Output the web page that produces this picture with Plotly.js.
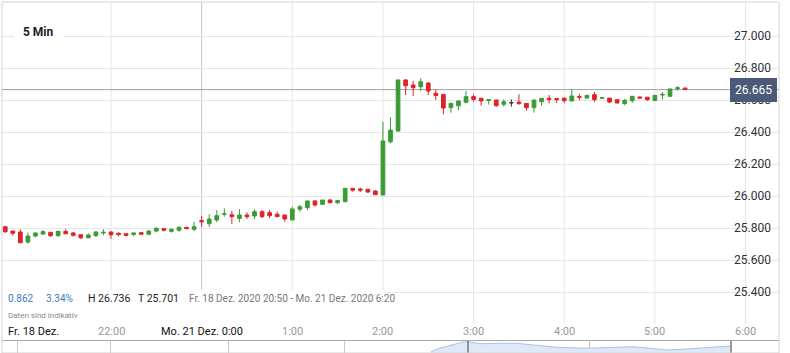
<!DOCTYPE html>
<html><head><meta charset="utf-8">
<script src="https://cdn.plot.ly/plotly-3.0.1.min.js"></script>
<style>html,body{margin:0;padding:0;background:#fff}#chart{width:790px;height:353px}</style>
</head><body><div id="chart"></div>
<script>
// 5-minute candles, Fr. 18 Dez. 2020 20:50 -> Mo. 21 Dez. 2020
const openV = [25.808,25.781,25.775,25.712,25.750,25.762,25.773,25.752,25.779,25.769,
 25.758,25.739,25.752,25.769,25.775,25.767,25.764,25.760,25.771,25.761,
 25.781,25.796,25.779,25.786,25.804,25.792,25.846,25.827,25.850,25.886,
 25.883,25.860,25.881,25.875,25.902,25.896,25.886,25.881,25.850,25.917,
 25.927,25.969,25.948,25.975,25.958,25.964,26.048,26.044,26.042,26.031,
 26.006,26.339,26.406,26.725,26.694,26.683,26.706,26.642,26.635,26.552,
 26.564,26.586,26.621,26.611,26.597,26.600,26.573,26.583,26.587,26.579,
 26.552,26.589,26.611,26.609,26.612,26.594,26.621,26.612,26.633,26.611,
 26.612,26.602,26.577,26.596,26.619,26.617,26.596,26.631,26.623,26.672,26.675];
const highV = [25.812,25.783,25.792,25.771,25.773,25.788,25.775,25.783,25.792,25.775,
 25.760,25.767,25.781,25.792,25.779,25.773,25.766,25.771,25.772,25.788,
 25.804,25.798,25.796,25.810,25.806,25.839,25.875,25.886,25.912,25.923,
 25.908,25.919,25.898,25.917,25.912,25.912,25.902,25.883,25.933,25.944,
 25.969,25.975,25.975,25.981,25.975,26.048,26.050,26.052,26.044,26.037,
 26.464,26.492,26.729,26.731,26.720,26.736,26.712,26.666,26.637,26.581,
 26.596,26.656,26.636,26.612,26.606,26.602,26.604,26.604,26.636,26.580,
 26.600,26.611,26.631,26.609,26.612,26.669,26.639,26.631,26.650,26.615,
 26.612,26.602,26.608,26.623,26.621,26.617,26.631,26.650,26.670,26.686,26.676];
const lowV = [25.769,25.752,25.705,25.701,25.742,25.758,25.744,25.744,25.762,25.746,
 25.731,25.736,25.744,25.754,25.733,25.748,25.746,25.748,25.758,25.756,
 25.773,25.779,25.771,25.777,25.792,25.781,25.806,25.806,25.836,25.871,
 25.825,25.836,25.856,25.856,25.861,25.861,25.869,25.839,25.850,25.902,
 25.912,25.933,25.948,25.954,25.948,25.964,26.027,26.025,26.019,26.006,
 26.004,26.329,26.402,26.631,26.625,26.656,26.631,26.600,26.510,26.521,
 26.537,26.579,26.589,26.564,26.571,26.558,26.558,26.558,26.569,26.533,
 26.521,26.564,26.579,26.581,26.581,26.592,26.598,26.610,26.587,26.606,
 26.581,26.579,26.567,26.581,26.610,26.596,26.594,26.602,26.620,26.658,26.665];
const closeV = [25.777,25.767,25.708,25.750,25.769,25.777,25.752,25.779,25.764,25.754,
 25.739,25.756,25.775,25.773,25.758,25.760,25.754,25.769,25.761,25.781,
 25.798,25.786,25.792,25.804,25.796,25.808,25.839,25.856,25.877,25.889,
 25.871,25.881,25.871,25.902,25.871,25.877,25.871,25.856,25.919,25.933,
 25.969,25.944,25.975,25.958,25.971,26.048,26.036,26.037,26.025,26.008,
 26.344,26.412,26.725,26.689,26.677,26.714,26.656,26.628,26.550,26.579,
 26.594,26.621,26.604,26.594,26.602,26.564,26.589,26.583,26.579,26.552,
 26.600,26.610,26.604,26.602,26.596,26.625,26.617,26.629,26.602,26.614,
 26.587,26.581,26.598,26.623,26.612,26.602,26.629,26.635,26.669,26.676,26.665];

const lastPrice = 26.665;
const tickIdx  = [14, 26, 38, 50, 62, 74, 86, 98];
const tickText = ['22:00','Mo. 21 Dez. 0:00','1:00','2:00','3:00','4:00','5:00','6:00'];
const tickDark = [false, true, false, false, false, false, false, false];
const dayBreakIdx = 26;
const yTicks = [25.4, 25.6, 25.8, 26.0, 26.2, 26.4, 26.6, 26.8, 27.0];

// navigator strip (overview series)
const navPos = [431,440,452,463,468,480,500,517,533,557,587,607,633,650,667,683,700,720,730];
const navVal = [26.354,26.508,26.633,26.758,26.771,26.688,26.704,26.704,26.633,26.538,26.496,26.538,26.5625,26.496,26.425,26.454,26.496,26.5625,26.592];
const navGrid = [17,110,228,344,589];
const navHandles = [468,731];

const idx = openV.map((_, i) => i);
const isFlat = openV.map((o, i) => o === closeV[i]);
const pick = (arr, flag) => arr.map((v, i) => isFlat[i] === flag ? v : null);

const GREEN = '#3a9c35', RED = '#e2222a';

const traces = [
 {type:'candlestick', x: idx, open: pick(openV,false), high: pick(highV,false), low: pick(lowV,false), close: pick(closeV,false),
  increasing:{line:{color:GREEN,width:1}, fillcolor:GREEN},
  decreasing:{line:{color:RED,width:1}, fillcolor:RED},
  xaxis:'x', yaxis:'y', hoverinfo:'skip'},
 {type:'candlestick', x: idx, open: pick(openV,true), high: pick(highV,true), low: pick(lowV,true), close: pick(closeV,true),
  increasing:{line:{color:'#333',width:1}, fillcolor:'#333'},
  decreasing:{line:{color:'#333',width:1}, fillcolor:'#333'},
  xaxis:'x', yaxis:'y', hoverinfo:'skip'},
 {type:'scatter', mode:'lines', x: navPos, y: navVal, fill:'tozeroy', fillcolor:'#dfe9f5',
  line:{color:'#a9c4e4', width:1}, xaxis:'x2', yaxis:'y2', hoverinfo:'skip'}
];

const px = p => (p - 2) / 777;
const py = p => (353 - p) / 351;
const F = 'Roboto, Arial, sans-serif';

// time-axis labels drawn as text at the tick positions
const timeLabels = tickIdx.map((t, i) => ({xref:'x', yref:'paper', x:t, y:py(331.7), xanchor:'center', yanchor:'middle',
  showarrow:false, text:tickText[i], font:{family:F, size:11, color: tickDark[i] ? '#111' : '#999'}, borderpad:0}));

const annotations = [
 ...timeLabels,
 {xref:'paper', yref:'paper', x:px(38.5), y:py(32.3), xanchor:'center', yanchor:'middle', showarrow:false,
  text:'<b>5 Min</b>', font:{family:F,size:12,color:'#222'}, bgcolor:'#fff', borderpad:9, borderwidth:0},
 {xref:'paper', yref:'paper', x:px(7), y:py(298.3), xanchor:'left', yanchor:'middle', showarrow:false,
  text:'0.862', font:{family:F,size:10,color:'#3d7cc0'}, borderpad:0},
 {xref:'paper', yref:'paper', x:px(45), y:py(298.3), xanchor:'left', yanchor:'middle', showarrow:false,
  text:'3.34%', font:{family:F,size:10,color:'#3d7cc0'}, borderpad:0},
 {xref:'paper', yref:'paper', x:px(87), y:py(298.3), xanchor:'left', yanchor:'middle', showarrow:false,
  text:'H 26.736', font:{family:F,size:10.5,color:'#222'}, borderpad:0},
 {xref:'paper', yref:'paper', x:px(137), y:py(298.3), xanchor:'left', yanchor:'middle', showarrow:false,
  text:'T 25.701', font:{family:F,size:10.5,color:'#222'}, borderpad:0},
 {xref:'paper', yref:'paper', x:px(188), y:py(298.3), xanchor:'left', yanchor:'middle', showarrow:false,
  text:'Fr. 18 Dez. 2020 20:50 - Mo. 21 Dez. 2020 6:20', font:{family:F,size:10,color:'#777'}, borderpad:0},
 {xref:'paper', yref:'paper', x:px(7), y:py(315.7), xanchor:'left', yanchor:'middle', showarrow:false,
  text:'Daten sind indikativ', font:{family:F,size:8,color:'#888'}, borderpad:0},
 {xref:'paper', yref:'paper', x:px(6.5), y:py(331.7), xanchor:'left', yanchor:'middle', showarrow:false,
  text:'Fr. 18 Dez.', font:{family:F,size:11,color:'#111'}, borderpad:0},
 {xref:'paper', yref:'y', x:px(777), y:lastPrice, xanchor:'right', yanchor:'middle', showarrow:false,
  text:'26.665', font:{family:F,size:12,color:'#fff'}, bgcolor:'#4b5a78', borderpad:5, borderwidth:0}
];

const gridShapes = tickIdx.map(t => ({type:'line', xref:'x', yref:'y domain', x0:t, x1:t, y0:0, y1:1,
  line:{color: t === dayBreakIdx ? '#c6c6c6' : '#e6e6e6', width:1}, layer:'below'}));

const shapes = [
 ...gridShapes,
 {type:'line', xref:'paper', yref:'y', x0:0, x1:1, y0:lastPrice, y1:lastPrice, line:{color:'#9ea3a8', width:1}, layer:'below'},
 {type:'rect', xref:'paper', yref:'paper', x0:0, x1:px(384), y0:py(324), y1:py(290), fillcolor:'#fff', line:{width:0}, layer:'above'},
 ...navHandles.map(h => ({type:'line', xref:'x2', yref:'paper', x0:h, x1:h, y0:0, y1:py(341), line:{color:'#777', width:1.5}, layer:'above'})),
 {type:'rect', xref:'paper', yref:'paper', x0:0, x1:1, y0:0, y1:1, line:{color:'#d3d3d3', width:1}, fillcolor:'rgba(0,0,0,0)', layer:'above'}
];

const layout = {
 width:790, height:353, margin:{l:2, r:11, t:2, b:0, pad:0},
 paper_bgcolor:'#fff', plot_bgcolor:'#fff', showlegend:false, hovermode:false,
 font:{family:F},
 xaxis:{domain:[0,1], anchor:'y', type:'linear', range:[-0.43,102.43], showticklabels:false,
  showgrid:false, zeroline:false, showline:false, ticks:'', rangeslider:{visible:false}, fixedrange:true},
 yaxis:{domain:[py(324),1], anchor:'x', range:[25.2,27.2125], side:'right', tickmode:'array', tickvals:yTicks, tickformat:'.3f',
  ticklabelposition:'inside', ticklabelstandoff:5, showgrid:true, gridcolor:'#e6e6e6', gridwidth:1, zeroline:false, showline:false, ticks:'',
  tickfont:{family:F, size:12, color:'#333'}, fixedrange:true},
 xaxis2:{domain:[0,1], anchor:'y2', range:[2,779], side:'top', tickmode:'array', tickvals:navGrid, showticklabels:false,
  showgrid:true, gridcolor:'#c9c9c9', zeroline:false, showline:true, linecolor:'#aaaaaa', linewidth:1, ticks:''},
 yaxis2:{domain:[0,py(341)], anchor:'x2', range:[26.3,26.8], showgrid:false, showticklabels:false, zeroline:false, showline:false, ticks:''},
 annotations, shapes
};

Plotly.newPlot('chart', traces, layout, {staticPlot:true, displayModeBar:false});
</script></body></html>
